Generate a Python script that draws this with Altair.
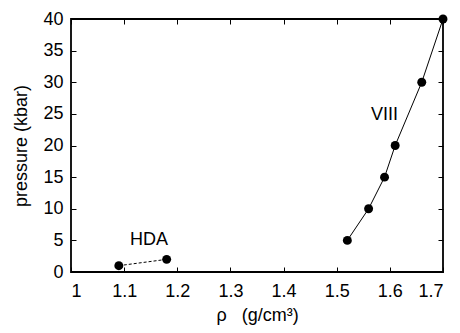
import altair as alt
import pandas as pd

hda_rho = [1.09, 1.18]
hda_p = [1, 2]
viii_rho = [1.52, 1.56, 1.59, 1.61, 1.66, 1.70]
viii_p = [5, 10, 15, 20, 30, 40]
label_text = ["HDA", "VIII"]
label_rho = [1.147, 1.59]
label_p = [5.0, 24.8]
x_ticks = [1.0, 1.1, 1.2, 1.3, 1.4, 1.5, 1.6, 1.7]
y_ticks = [0, 5, 10, 15, 20, 25, 30, 35, 40]

FONT = "Liberation Sans"
FS = 18

hda = pd.DataFrame({"rho": hda_rho, "p": hda_p})
viii = pd.DataFrame({"rho": viii_rho, "p": viii_p})
labels = pd.DataFrame({"rho": label_rho, "p": label_p, "t": label_text})

xs = alt.Scale(domain=[1.0, 1.7], nice=False, zero=False)
ys = alt.Scale(domain=[0, 40], nice=False)

common_axis = dict(grid=False, domain=False, ticks=True, tickSize=5, offset=-5,
                   tickColor="black", tickWidth=1, labelFont=FONT, labelFontSize=FS,
                   labelColor="black", titleFont=FONT, titleFontSize=FS,
                   titleFontWeight="normal", titleColor="black")

x_bottom = alt.X("rho:Q", scale=xs, axis=alt.Axis(
    orient="bottom", values=x_ticks, format="~g", labelPadding=10,
    title="ρ\u00a0\u00a0\u00a0(g/cm³)", titlePadding=6, **common_axis))
y_left = alt.Y("p:Q", scale=ys, axis=alt.Axis(
    orient="left", values=y_ticks, labelPadding=8, title="pressure (kbar)",
    titlePadding=12, **common_axis))

x_top = alt.X("rho:Q", scale=xs, axis=alt.Axis(
    orient="top", values=x_ticks, labels=False, title=None, grid=False, domain=False,
    tickSize=5, offset=-5, tickColor="black"))
y_right = alt.Y("p:Q", scale=ys, axis=alt.Axis(
    orient="right", values=y_ticks, labels=False, title=None, grid=False, domain=False,
    tickSize=5, offset=-5, tickColor="black"))

xn = alt.X("rho:Q", scale=xs, axis=None)
yn = alt.Y("p:Q", scale=ys, axis=None)

hda_line = alt.Chart(hda).mark_line(color="black", strokeWidth=1, strokeDash=[3, 2]).encode(x=x_bottom, y=y_left)
hda_pts = alt.Chart(hda).mark_circle(color="black", size=80, opacity=1).encode(x=xn, y=yn)
viii_line = alt.Chart(viii).mark_line(color="black", strokeWidth=1).encode(x=x_top, y=y_right)
viii_pts = alt.Chart(viii).mark_circle(color="black", size=80, opacity=1).encode(x=xn, y=yn)
txt = alt.Chart(labels).mark_text(font=FONT, fontSize=FS, color="black").encode(x=xn, y=yn, text="t:N")

chart = alt.layer(hda_line, viii_line, hda_pts, viii_pts, txt).resolve_axis(
    x="independent", y="independent"
).properties(
    width=372, height=253,
    autosize=alt.AutoSizeParams(type="none"),
    padding={"left": 63, "top": 11, "right": 9, "bottom": 53},
).configure_view(stroke="black", strokeWidth=1.8)

chart.save("out.html", embed_options={"renderer": "svg", "actions": False})
